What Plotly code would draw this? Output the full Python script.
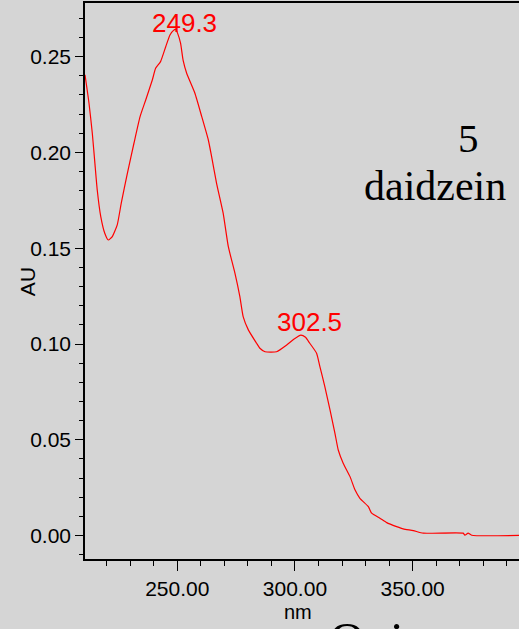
import plotly.graph_objects as go


BACKGROUND = "#d5d5d5"
RED = "#ff0000"
BLACK = "#000000"

# UV spectrum of daidzein
wavelength = [
    210.8, 212.5, 213.9, 215.0, 216.0, 217.5, 219.2, 220.7, 222.4, 224.5,
    226.2, 228.8, 231.6, 234.2, 236.6, 239.4, 240.8, 242.9, 245.1, 246.9,
    248.3, 249.3, 250.2, 251.4, 252.5, 254.0, 257.5, 260.4, 263.2, 264.6,
    266.7, 269.5, 271.7, 274.5, 276.6, 278.0, 280.2, 283.7, 285.1, 287.3,
    292.2, 296.5, 299.5, 302.5, 304.5, 306.3, 309.2, 310.6, 312.7, 314.9,
    317.0, 318.4, 320.5, 323.4, 325.5, 327.6, 331.2, 332.6, 336.1, 339.0,
    343.2, 346.0, 350.3, 354.5, 371.5, 372.2, 373.6, 375.1, 400.0,
]
absorbance = [
    0.2405, 0.2257, 0.2100, 0.1944, 0.1804, 0.1665, 0.1578, 0.1543, 0.1561, 0.1622,
    0.1735, 0.1891, 0.2048, 0.2187, 0.2274, 0.2378, 0.2439, 0.2474, 0.2552, 0.2613,
    0.2636, 0.2642, 0.2620, 0.2570, 0.2480, 0.2413, 0.2309, 0.2187, 0.2065, 0.1978,
    0.1839, 0.1683, 0.1508, 0.1370, 0.1247, 0.1143, 0.1074, 0.1004, 0.0978, 0.0960,
    0.0960, 0.0995, 0.1025, 0.1047, 0.1035, 0.1004, 0.0952, 0.0882, 0.0778, 0.0656,
    0.0534, 0.0447, 0.0378, 0.0308, 0.0239, 0.0195, 0.0151, 0.0117, 0.0091, 0.0068,
    0.0047, 0.0035, 0.0026, 0.0013, 0.0013, 0.0002, 0.0013, 0.0002, 0.0002,
]

peak_labels = ["249.3", "302.5"]
peak_x = [253.1, 306.1]
peak_y = [0.2676, 0.1117]


fig = go.Figure()

fig.add_trace(
    go.Scatter(
        x=wavelength,
        y=absorbance,
        mode="lines",
        line=dict(color=RED, width=1.2, shape="spline", smoothing=0.5),
        showlegend=False,
    )
)

for label, px, py in zip(peak_labels, peak_x, peak_y):
    fig.add_annotation(
        x=px,
        y=py,
        text=label,
        showarrow=False,
        xanchor="center",
        yanchor="middle",
        font=dict(family="Liberation Sans", size=26, color=RED),
    )

fig.add_annotation(
    x=0.8825, y=0.7567, xref="paper", yref="paper",
    text="5", showarrow=False, xanchor="center", yanchor="middle",
    font=dict(family="Liberation Serif", size=41, color=BLACK),
)
fig.add_annotation(
    x=0.8065, y=0.671, xref="paper", yref="paper",
    text="daidzein", showarrow=False, xanchor="center", yanchor="middle",
    font=dict(family="Liberation Serif", size=42, color=BLACK),
)
fig.add_annotation(
    x=-0.1336, y=0.498, xref="paper", yref="paper",
    text="AU", textangle=-90, showarrow=False,
    xanchor="center", yanchor="middle",
    font=dict(family="Liberation Sans", size=21, color=BLACK),
)
fig.add_annotation(
    x=0.4908, y=-0.0953, xref="paper", yref="paper",
    text="nm", showarrow=False, xanchor="center", yanchor="middle",
    font=dict(family="Liberation Sans", size=20, color=BLACK),
)
# large caption cut off by the bottom edge of the picture
fig.add_annotation(
    x=0.5576, y=-0.092, xref="paper", yref="paper",
    text="Qui", showarrow=False, xanchor="left", yanchor="top",
    font=dict(family="Liberation Serif", size=50, color=BLACK),
)

fig.update_xaxes(
    range=[210.8, 395.2],
    tick0=0,
    dtick=50,
    tickformat=".2f",
    ticks="outside",
    ticklen=10,
    tickwidth=1,
    tickcolor=BLACK,
    minor=dict(dtick=10, ticks="outside", ticklen=5, tickcolor=BLACK, showgrid=False),
    showline=True,
    linecolor=BLACK,
    linewidth=1.5,
    mirror=True,
    showgrid=False,
    zeroline=False,
    tickfont=dict(family="Liberation Sans", size=21, color=BLACK),
)

fig.update_yaxes(
    range=[-0.0122, 0.278],
    tick0=0,
    dtick=0.05,
    tickformat=".2f",
    ticks="outside",
    ticklen=8,
    tickwidth=1,
    tickcolor=BLACK,
    minor=dict(dtick=0.01, ticks="outside", ticklen=4, tickcolor=BLACK, showgrid=False),
    showline=True,
    linecolor=BLACK,
    linewidth=1.5,
    showgrid=False,
    zeroline=False,
    tickfont=dict(family="Liberation Sans", size=21, color=BLACK),
)

fig.update_layout(
    width=519,
    height=629,
    paper_bgcolor=BACKGROUND,
    plot_bgcolor=BACKGROUND,
    margin=dict(l=85, r=0, t=3, b=70),
    showlegend=False,
)

fig.write_html(
    "out.html",
    config={"displayModeBar": False},
    post_script="document.body.style.margin='0';"
    "document.body.style.background='" + BACKGROUND + "';",
)
